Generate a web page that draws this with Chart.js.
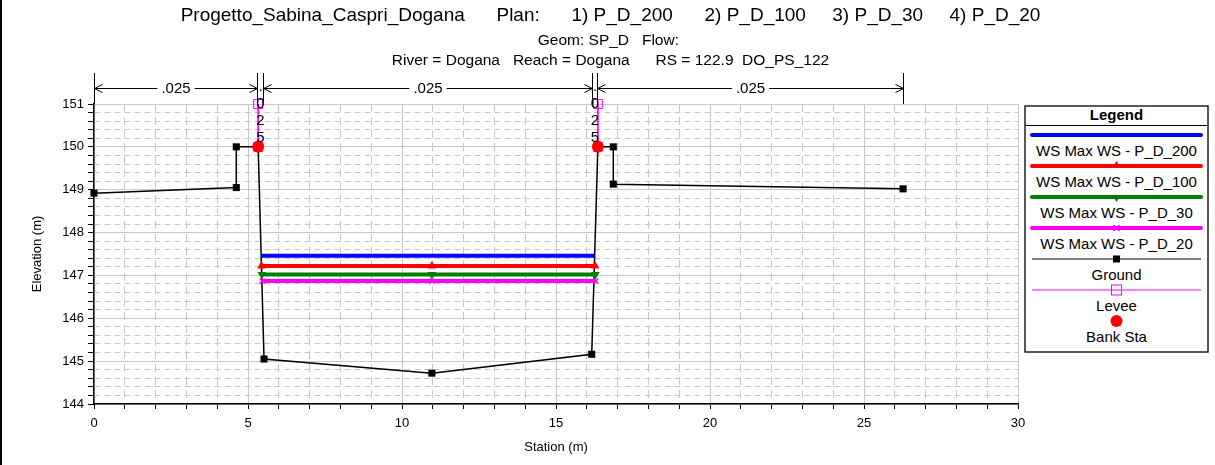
<!DOCTYPE html>
<html><head><meta charset="utf-8">
<script src="https://cdn.jsdelivr.net/npm/chart.js@4/dist/chart.umd.min.js"></script>
<style>
html,body{margin:0;padding:0;background:#fff;}
#wrap{position:relative;width:1215px;height:465px;overflow:hidden;background:#fff;}
#c{position:absolute;left:0;top:0;}
#frame{position:absolute;left:0;top:0;width:2px;height:465px;background:#000;}
#legend{position:absolute;left:1024px;top:105px;}
</style></head>
<body><div id="wrap"><canvas id="c" width="1215" height="465"></canvas><div id="frame"></div><div id="legend"></div></div>
<script>
// ---------- data ----------
const titleText = 'Progetto_Sabina_Caspri_Dogana      Plan:      1) P_D_200      2) P_D_100     3) P_D_30     4) P_D_20';
const subtitleLines = ['Geom: SP_D   Flow: ', 'River = Dogana   Reach = Dogana      RS = 122.9  DO_PS_122'];
const xTitle = 'Station (m)';
const yTitle = 'Elevation (m)';
const xRange = [0, 30];
const yRange = [144, 151];

const groundStation = [0, 4.62, 4.62, 5.33, 5.52, 10.97, 16.16, 16.36, 16.86, 16.86, 26.27];
const groundElev    = [148.92, 149.05, 150.0, 150.0, 145.05, 144.72, 145.16, 150.0, 150.0, 149.13, 149.02];

const wsLabels = ['WS Max WS - P_D_200', 'WS Max WS - P_D_100', 'WS Max WS - P_D_30', 'WS Max WS - P_D_20'];
const ws200Station = [5.43, 10.97, 16.26];
const ws200Elev    = [147.46, 147.46, 147.46];
const ws100Station = [5.44, 10.97, 16.27];
const ws100Elev    = [147.22, 147.22, 147.22];
const ws30Station  = [5.45, 10.97, 16.28];
const ws30Elev     = [147.02, 147.02, 147.02];
const ws20Station  = [5.46, 10.97, 16.29];
const ws20Elev     = [146.87, 146.87, 146.87];

const leveeStation = [5.33, 16.36];
const leveeTop     = [151.0, 151.0];
const leveeBase    = [150.0, 150.0];

const bankStation = [5.33, 16.36];
const bankElev    = [150.0, 150.0];

const nStations = [0, 5.29, 5.49, 16.17, 16.33, 26.27];
const nValues   = ['.025', '.025', '.025', '.025', '.025'];

// ---------- helpers ----------
const FONT = 'Arial, "Liberation Sans", sans-serif';
const pts = (xs, ys) => xs.map((v, i) => ({x: v, y: ys[i]}));
const GRID = '#c8c8c8';
const isInt = (v, step) => Math.abs(v / step - Math.round(v / step)) < 1e-6;

Chart.defaults.font.family = FONT;
Chart.defaults.color = '#000';

const wsStyles = [
  {color: '#0000ff', point: false, rot: 0},
  {color: '#ff0000', point: 'triangle', rot: 0},
  {color: '#008000', point: 'triangle', rot: 180},
  {color: '#ff00ff', point: 'crossRot', rot: 0}
];
const wsData = [pts(ws200Station, ws200Elev), pts(ws100Station, ws100Elev), pts(ws30Station, ws30Elev), pts(ws20Station, ws20Elev)];

const datasets = [];
datasets.push({label: 'Bank Sta', data: pts(bankStation, bankElev), showLine: false,
  pointStyle: 'circle', pointRadius: 6, pointBackgroundColor: '#ff0000', pointBorderColor: '#ff0000', pointBorderWidth: 0, clip: false});
leveeStation.forEach((s, i) => {
  datasets.push({label: 'Levee', data: [{x: s, y: leveeTop[i]}, {x: s, y: leveeBase[i]}], showLine: true,
    borderColor: '#ff00ff', borderWidth: 1, pointStyle: 'rect', pointRadius: 6.3, pointBorderWidth: 1,
    pointBorderColor: '#ff00ff', pointBackgroundColor: 'rgba(0,0,0,0)', clip: false});
});
wsData.forEach((d, i) => {
  const st = wsStyles[i];
  datasets.push({label: wsLabels[i], data: d, showLine: true, borderColor: st.color, backgroundColor: st.color,
    borderWidth: 4, borderCapStyle: 'butt', pointStyle: st.point, pointRadius: st.point ? 3.5 : 0,
    pointRotation: st.rot, pointBorderWidth: 1.5, pointBorderColor: st.color, pointBackgroundColor: st.color, clip: false});
});
datasets.push({label: 'Ground', data: pts(groundStation, groundElev), showLine: true, borderColor: '#000', borderWidth: 1.5,
  pointStyle: 'rect', pointRadius: 5, pointBackgroundColor: '#000', pointBorderColor: '#000', pointBorderWidth: 0, clip: false});

// ---------- n-value bars plugin ----------
const nValuePlugin = {
  id: 'nvalues',
  afterDraw(chart) {
    const {ctx, chartArea} = chart;
    const xs = chart.scales.x;
    const yBar = 73, yLine = 88;
    ctx.save();
    ctx.strokeStyle = '#000';
    ctx.fillStyle = '#000';
    ctx.lineWidth = 1;
    const px = s => Math.round(xs.getPixelForValue(s)) + 0.5;
    nStations.forEach(s => {
      const p = px(s);
      ctx.beginPath(); ctx.moveTo(p, yBar); ctx.lineTo(p, chartArea.top); ctx.stroke();
    });
    ctx.font = '15px ' + FONT;
    ctx.textAlign = 'center';
    ctx.textBaseline = 'middle';
    for (let i = 0; i < nValues.length; i++) {
      const x0 = px(nStations[i]), x1 = px(nStations[i + 1]);
      const label = nValues[i];
      const w = ctx.measureText(label).width;
      const mid = (x0 + x1) / 2;
      if (x1 - x0 > w + 30) {
        const y = yLine + 0.5;
        ctx.beginPath();
        ctx.moveTo(x0, y); ctx.lineTo(mid - w / 2 - 4, y);
        ctx.moveTo(mid + w / 2 + 4, y); ctx.lineTo(x1, y);
        ctx.moveTo(x0 + 8, y - 4); ctx.lineTo(x0, y); ctx.lineTo(x0 + 8, y + 4);
        ctx.moveTo(x1 - 8, y - 4); ctx.lineTo(x1, y); ctx.lineTo(x1 - 8, y + 4);
        ctx.stroke();
        ctx.fillText(label, mid, yLine + 1);
      } else {
        label.split('').forEach((c, k) => ctx.fillText(c, mid, yLine - 1 + k * 17));
      }
    }
    ctx.restore();
  }
};

const chart = new Chart(document.getElementById('c'), {
  type: 'scatter',
  data: {datasets},
  plugins: [nValuePlugin],
  options: {
    responsive: false,
    animation: false,
    events: [],
    layout: {padding: {left: 6, right: 0, top: 0, bottom: 0}},
    plugins: {
      legend: {display: false},
      tooltip: {enabled: false},
      title: {display: true, text: titleText, color: '#000',
        font: {size: 19, weight: 'normal', lineHeight: '22px'}, padding: {top: 5, bottom: 4}},
      subtitle: {display: true, text: subtitleLines, color: '#000',
        font: {size: 15.5, weight: 'normal', lineHeight: '20px'}, padding: {top: 0, bottom: 33}}
    },
    scales: {
      x: {
        type: 'linear', position: 'bottom', min: xRange[0], max: xRange[1],
        afterFit: s => { s.height = 61; s.paddingLeft = 0; s.paddingRight = 0; },
        ticks: {stepSize: 1, autoSkip: false, maxRotation: 0, padding: 7, font: {size: 13},
          callback: v => isInt(v, 5) ? String(Math.round(v)) : ''},
        grid: {color: GRID, lineWidth: 1, tickColor: '#000', tickLength: 5, tickWidth: 1},
        border: {display: true, color: '#000', width: 1.5,
          dash: c => (c.tick && !isInt(c.tick.value, 5)) ? [8, 5] : []},
        title: {display: true, text: xTitle, font: {size: 13}, padding: {top: 0, bottom: 10}}
      },
      y: {
        type: 'linear', position: 'left', min: yRange[0], max: yRange[1],
        afterFit: s => { s.width = 88; s.paddingTop = 0; s.paddingBottom = 0; },
        ticks: {stepSize: 0.2, autoSkip: false, padding: 4, font: {size: 13},
          callback: v => isInt(v, 1) ? String(Math.round(v)) : ''},
        grid: {color: GRID, lineWidth: 1, tickColor: '#000', tickLength: 6, tickWidth: 1},
        border: {display: true, color: '#000', width: 1.5,
          dash: c => (c.tick && !isInt(c.tick.value, 1)) ? [6, 4] : []},
        title: {display: true, text: yTitle, font: {size: 13}, padding: {top: 24, bottom: 0}}
      },
      yR: {
        type: 'linear', position: 'right', display: true,
        afterFit: s => { s.width = 197; s.paddingTop = 0; s.paddingBottom = 0; },
        ticks: {display: false}, grid: {display: false, drawTicks: false}, border: {display: false}
      }
    }
  }
});

// ---------- legend (SVG, built from the series) ----------
(function buildLegend() {
  const W = 184, H = 247;
  const ns = 'http://www.w3.org/2000/svg';
  const svg = document.createElementNS(ns, 'svg');
  svg.setAttribute('width', W + 2); svg.setAttribute('height', H + 2);
  const el = (tag, attrs, text) => {
    const e = document.createElementNS(ns, tag);
    for (const k in attrs) e.setAttribute(k, attrs[k]);
    if (text !== undefined) e.textContent = text;
    svg.appendChild(e); return e;
  };
  el('rect', {x: 1, y: 1, width: W - 1, height: H - 1, fill: '#fff', stroke: '#000', 'stroke-width': 1.3});
  el('text', {x: W / 2 + 0.5, y: 9.5, 'font-family': FONT, 'font-size': 15, 'font-weight': 'bold',
    'text-anchor': 'middle', 'dominant-baseline': 'central'}, 'Legend');
  el('line', {x1: 1, y1: 20.5, x2: W, y2: 20.5, stroke: '#000', 'stroke-width': 1});
  const x1 = 8, x2 = 177, cx = (x1 + x2) / 2;
  const entries = [];
  wsLabels.forEach((l, i) => entries.push({label: l, type: 'ws', style: wsStyles[i]}));
  entries.push({label: 'Ground', type: 'ground'});
  entries.push({label: 'Levee', type: 'levee'});
  entries.push({label: 'Bank Sta', type: 'bank'});
  entries.forEach((e, i) => {
    const ly = 30 + i * 31, ty = 45.5 + i * 31;
    if (e.type === 'ws') {
      el('line', {x1, y1: ly, x2, y2: ly, stroke: e.style.color, 'stroke-width': 4, 'stroke-linecap': 'round'});
      if (e.style.point === 'triangle' && e.style.rot === 0)
        el('path', {d: `M${cx - 3},${ly} L${cx},${ly - 5} L${cx + 3},${ly} Z`, fill: e.style.color});
      if (e.style.point === 'triangle' && e.style.rot === 180)
        el('path', {d: `M${cx - 3},${ly} L${cx},${ly + 5} L${cx + 3},${ly} Z`, fill: e.style.color});
      if (e.style.point === 'crossRot')
        el('path', {d: `M${cx - 3},${ly - 3} L${cx + 3},${ly + 3} M${cx - 3},${ly + 3} L${cx + 3},${ly - 3}`, stroke: e.style.color, 'stroke-width': 1.5});
    } else if (e.type === 'ground') {
      el('line', {x1, y1: ly, x2, y2: ly, stroke: '#000', 'stroke-width': 1});
      el('rect', {x: cx - 3.5, y: ly - 3.5, width: 7, height: 7, fill: '#000'});
    } else if (e.type === 'levee') {
      el('line', {x1, y1: ly, x2, y2: ly, stroke: '#ff00ff', 'stroke-width': 1});
      el('rect', {x: cx - 5, y: ly - 5, width: 10, height: 10, fill: 'none', stroke: '#ff00ff', 'stroke-width': 1});
    } else {
      el('circle', {cx, cy: ly, r: 6, fill: '#ff0000'});
    }
    el('text', {x: cx, y: ty, 'font-family': FONT, 'font-size': 15, 'text-anchor': 'middle', 'dominant-baseline': 'central'}, e.label);
  });
  document.getElementById('legend').appendChild(svg);
})();
</script>
</body></html>
